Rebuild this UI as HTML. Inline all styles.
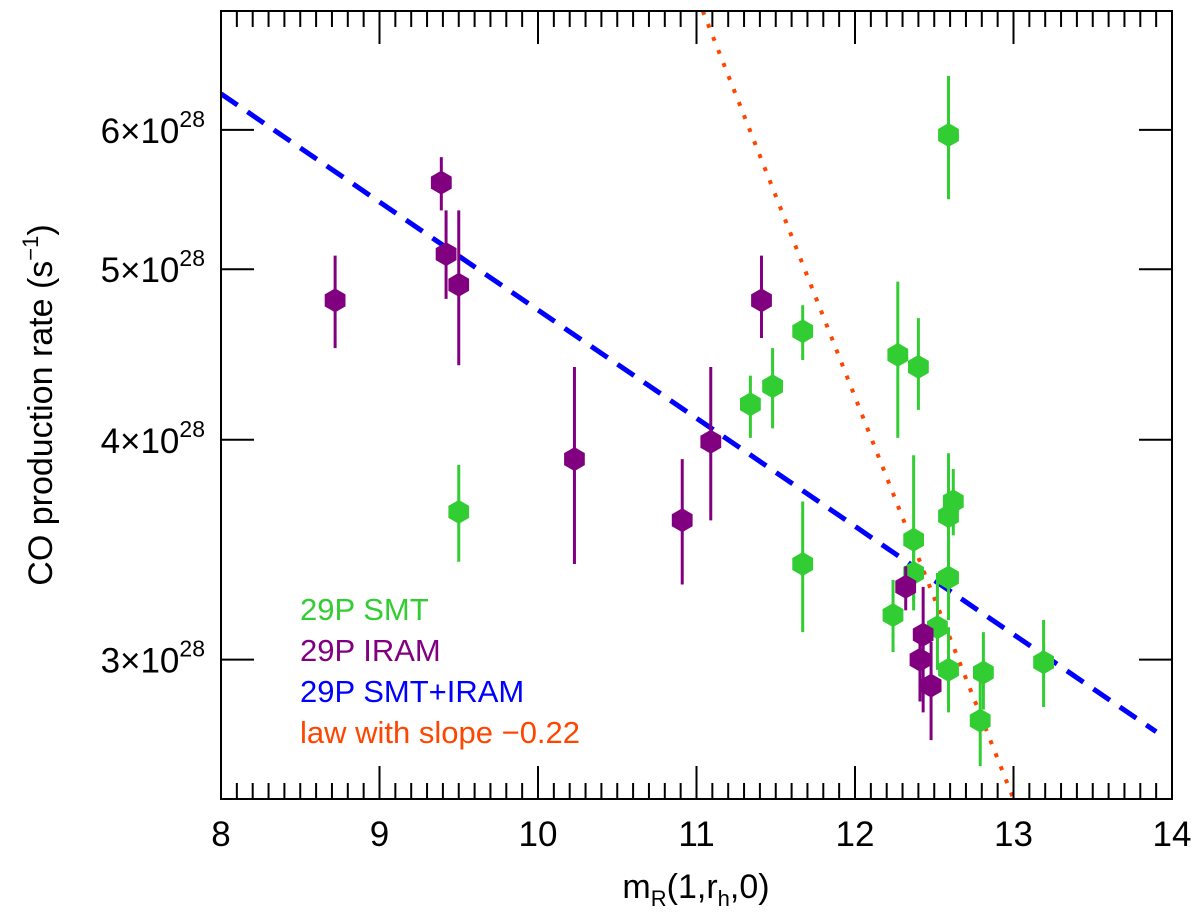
<!DOCTYPE html>
<html><head><meta charset="utf-8"><style>
html,body{margin:0;padding:0;background:#fff;}
svg{display:block;font-family:"Liberation Sans",sans-serif;}
</style></head><body>
<svg id="chart" width="1200" height="916" viewBox="0 0 1200 916">
<g id="marks"></g>
<g id="axes"></g>
</svg>
<script>
const smtM=[9.50,11.34,11.48,11.67,11.67,12.27,12.40,12.37,12.37,12.24,12.52,12.59,12.62,12.59,12.59,12.59,12.81,12.79,13.19];
const smtQ=[3.64,4.19,4.29,4.61,3.40,4.47,4.40,3.51,3.36,3.18,3.13,3.62,3.69,3.34,2.96,5.96,2.95,2.77,2.99];
const smtHi=[3.87,4.35,4.51,4.77,3.69,4.92,4.69,3.92,3.51,3.33,3.36,3.93,3.85,3.51,3.13,6.44,3.11,2.95,3.16];
const smtLo=[3.41,4.01,4.06,4.44,3.11,4.01,4.16,3.24,3.20,3.03,2.96,3.35,3.53,3.16,2.80,5.48,2.81,2.61,2.82];
const iramM=[8.72,9.39,9.42,9.50,10.23,10.91,11.09,11.41,12.32,12.43,12.41,12.48];
const iramQ=[4.80,5.60,5.10,4.90,3.90,3.60,3.99,4.80,3.30,3.10,3.00,2.90];
const iramHi=[5.09,5.79,5.40,5.40,4.40,3.90,4.40,5.09,3.39,3.30,3.12,3.07];
const iramLo=[4.51,5.40,4.81,4.41,3.40,3.31,3.60,4.57,3.20,2.80,2.84,2.70];
const fitM=[8.0,13.9];
const fitQ=[6.29,2.73];
const lawM=[11.04,13.0];
const lawQ=[7.01,2.50];
const xTicks=[8,9,10,11,12,13,14];
const yTicks=[3,4,5,6];

const X0=221,X1=1172,Y0=11,Y1=799;
const xMin=8,xMax=14,yMin=2.50,yMax=7.01;
const NS="http://www.w3.org/2000/svg";
function sx(m){return X0+(m-xMin)/(xMax-xMin)*(X1-X0);}
function sy(q){return Y1-(Math.log10(q)-Math.log10(yMin))/(Math.log10(yMax)-Math.log10(yMin))*(Y1-Y0);}
function el(tag,attrs,parent){const e=document.createElementNS(NS,tag);for(const k in attrs)e.setAttribute(k,attrs[k]);parent.appendChild(e);return e;}
const marks=document.getElementById('marks');
const axes=document.getElementById('axes');

const defs=el('defs',{},marks);
const cp=el('clipPath',{id:'pc'},defs);
el('rect',{x:X0,y:Y0,width:X1-X0,height:Y1-Y0},cp);

const fit=el('line',{x1:sx(fitM[0]),y1:sy(fitQ[0]),x2:sx(fitM[1]),y2:sy(fitQ[1]),stroke:'#0000ff','stroke-width':5,'stroke-dasharray':'20 12','clip-path':'url(#pc)'},marks);


const law=el('line',{x1:sx(lawM[0]),y1:sy(lawQ[0]),x2:sx(lawM[1]),y2:sy(lawQ[1]),stroke:'#ff4500','stroke-width':4,'stroke-dasharray':'4 10','clip-path':'url(#pc)'},marks);



function hex(cx,cy,r){let p=[];for(let i=0;i<6;i++){const a=Math.PI/6+i*Math.PI/3;p.push((cx+r*Math.cos(a)).toFixed(1)+','+(cy+r*Math.sin(a)).toFixed(1));}return p.join(' ');}
function series(M,Q,Hi,Lo,color,name){
  for(let i=0;i<M.length;i++){
    const g=el('g',{},marks);
    
    
    el('line',{x1:sx(M[i]),x2:sx(M[i]),y1:sy(Hi[i]),y2:sy(Lo[i]),stroke:color,'stroke-width':3},g);
    el('polygon',{points:hex(sx(M[i]),sy(Q[i]),12),fill:color},g);
  }
}
series(smtM,smtQ,smtHi,smtLo,'#32cd32','smt');
series(iramM,iramQ,iramHi,iramLo,'#800080','iram');

const fr=el('rect',{x:X0,y:Y0,width:X1-X0,height:Y1-Y0,fill:'none',stroke:'#000','stroke-width':2},axes);


for(let k=0;k<=60;k++){
  const m=xMin+k*0.1, x=sx(m), major=(k%10===0), L=major?33:16;
  el('line',{x1:x,x2:x,y1:Y1,y2:Y1-L,stroke:'#000','stroke-width':2},axes);
  el('line',{x1:x,x2:x,y1:Y0,y2:Y0+L,stroke:'#000','stroke-width':2},axes);
}
xTicks.forEach(v=>{
  const t=el('text',{x:sx(v),y:846,'font-size':35,'text-anchor':'middle'},axes);
  t.textContent=v;
  
  
});
yTicks.forEach(v=>{
  const y=sy(v);
  el('line',{x1:X0,x2:X0+33,y1:y,y2:y,stroke:'#000','stroke-width':2},axes);
  el('line',{x1:X1,x2:X1-33,y1:y,y2:y,stroke:'#000','stroke-width':2},axes);
  const t=el('text',{x:205,y:y+13,'font-size':35,'text-anchor':'end'},axes);
  t.innerHTML=v+'×10<tspan dy="-16" font-size="23">28</tspan>';
  
  
});
</script>
<div style="position:absolute;left:0;top:0;width:1200px;height:916px;pointer-events:none;">
<svg width="1200" height="916" style="position:absolute;left:0;top:0;font-family:'Liberation Sans',sans-serif;">
<text x="696" y="898" font-size="34" text-anchor="middle">m<tspan dy="8" font-size="22">R</tspan><tspan dy="-8">(1,r</tspan><tspan dy="8" font-size="22">h</tspan><tspan dy="-8">,0)</tspan></text>
<text transform="translate(52,405) rotate(-90)" font-size="34" text-anchor="middle">CO production rate (s<tspan dy="-14" font-size="22">−1</tspan><tspan dy="14">)</tspan></text>
<g font-size="31">
<text x="300" y="620" fill="#32cd32">29P SMT</text>
<text x="300" y="661" fill="#800080">29P IRAM</text>
<text x="300" y="702" fill="#0000ff">29P SMT+IRAM</text>
<text x="300" y="743" fill="#ff4500">law with slope −0.22</text>
</g>
</svg>
</div>
</body></html>
